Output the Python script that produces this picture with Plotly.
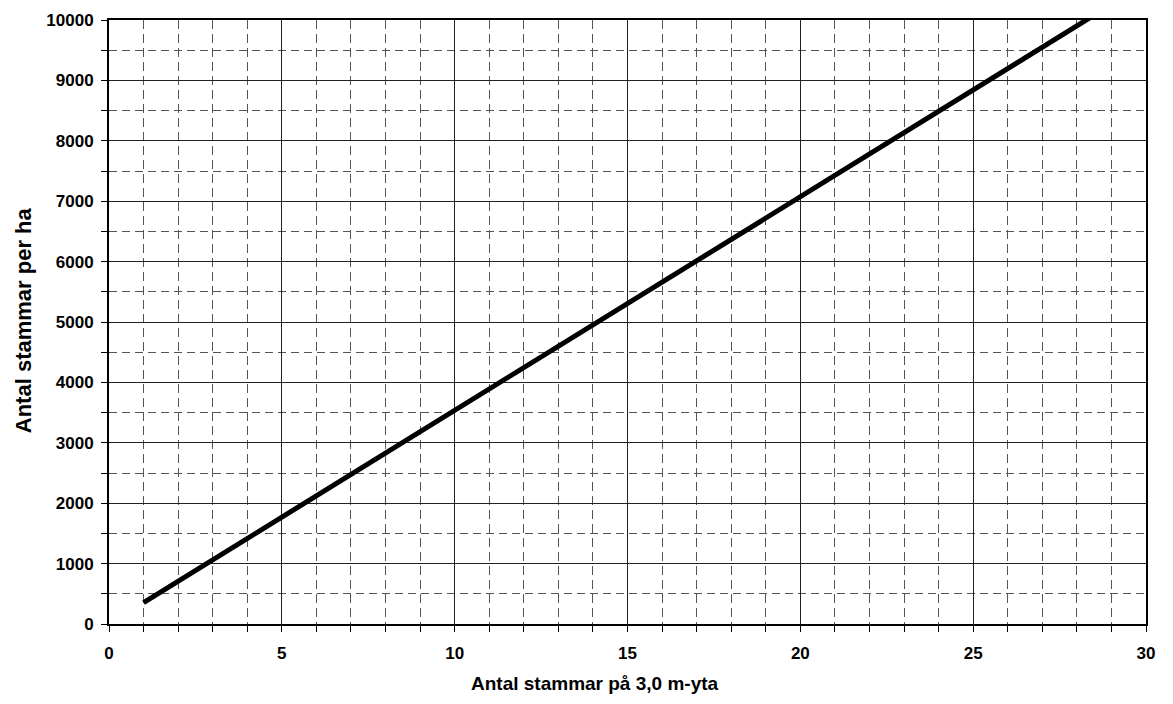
import plotly.graph_objects as go

# Number of stems on a 3.0 m radius plot vs. stems per hectare
stems_on_plot = [1, 2, 3, 4, 5, 6, 7, 8, 9, 10, 11, 12, 13, 14, 15,
                 16, 17, 18, 19, 20, 21, 22, 23, 24, 25, 26, 27, 28, 29]
stems_per_ha = [354, 707, 1061, 1415, 1768, 2122, 2476, 2829, 3183, 3537,
                3890, 4244, 4598, 4951, 5305, 5659, 6013, 6366, 6720, 7074,
                7427, 7781, 8135, 8488, 8842, 9196, 9549, 9903, 10257]

x_tick_vals = [0, 5, 10, 15, 20, 25, 30]
y_tick_vals = [0, 1000, 2000, 3000, 4000, 5000, 6000, 7000, 8000, 9000, 10000]

x_title = "Antal stammar på 3,0 m-yta"
y_title = "Antal stammar per ha"

font = "Liberation Sans, Arial, sans-serif"

fig = go.Figure()
fig.add_trace(go.Scatter(
    x=stems_on_plot, y=stems_per_ha, mode="lines",
    line=dict(color="black", width=5), showlegend=False,
    cliponaxis=True,
))

axis_common = dict(
    showline=True, linecolor="black", linewidth=2, mirror=True,
    ticks="outside", ticklen=6, tickcolor="black", tickwidth=1,
    showgrid=True, gridcolor="#222222", gridwidth=1,
    zeroline=False, automargin=False,
    tickfont=dict(family=font, size=17, color="black"),
)

fig.update_xaxes(
    range=[0, 30],
    tickmode="array", tickvals=x_tick_vals,
    ticktext=[f"<b>{v}</b>" for v in x_tick_vals],
    ticklabelstandoff=7,
    minor=dict(dtick=1, tick0=0, showgrid=True, gridcolor="#555555", griddash="9px,5px",
               gridwidth=1, ticks="outside", ticklen=6, tickcolor="black"),
    **axis_common,
)
fig.update_yaxes(
    range=[0, 10000],
    tickmode="array", tickvals=y_tick_vals,
    ticktext=[f"<b>{v}</b>" for v in y_tick_vals],
    ticklabelstandoff=4,
    minor=dict(dtick=500, tick0=0, showgrid=True, gridcolor="#555555", griddash="8px,5px",
               gridwidth=1, ticks="outside", ticklen=6, tickcolor="black"),
    **axis_common,
)

fig.add_annotation(
    text=f"<b>{x_title}</b>", xref="paper", yref="paper",
    x=0.4687, y=-0.0977, xanchor="center", yanchor="middle", showarrow=False,
    font=dict(family=font, size=19, color="black"),
)
fig.add_annotation(
    text=f"<b>{y_title}</b>", xref="paper", yref="paper", textangle=-90,
    x=-0.0829, y=0.503, xanchor="center", yanchor="middle", showarrow=False,
    font=dict(family=font, size=22, color="black"),
)

fig.update_layout(
    width=1173, height=704,
    margin=dict(l=101, r=35, t=12, b=88, autoexpand=False),
    plot_bgcolor="white", paper_bgcolor="white",
)

fig.write_html("out.html")
